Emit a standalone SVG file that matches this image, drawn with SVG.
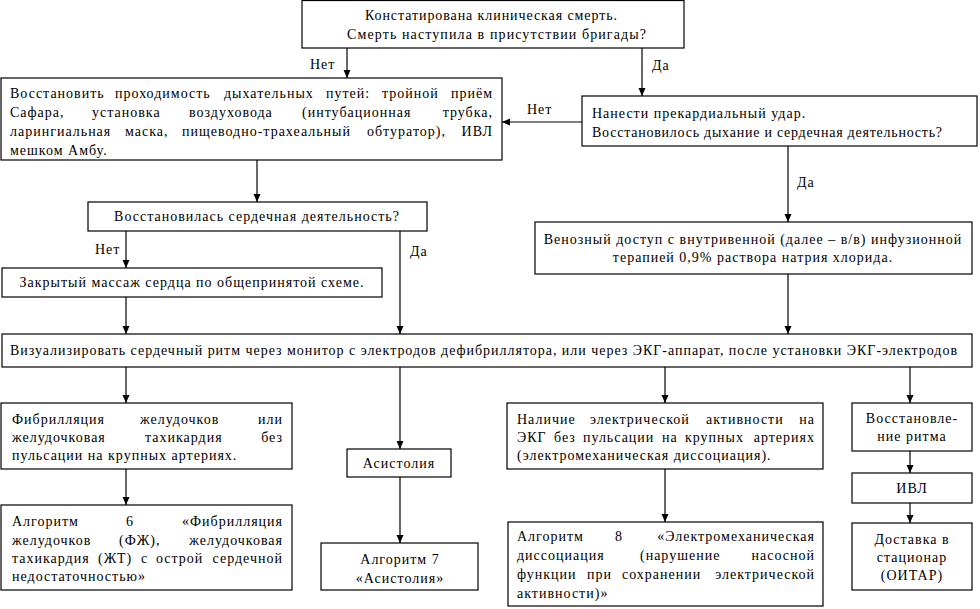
<svg xmlns="http://www.w3.org/2000/svg" width="980" height="609" viewBox="0 0 980 609">
<defs>
<marker id="ah" markerWidth="8" markerHeight="10" refX="8" refY="3.5" orient="auto" markerUnits="userSpaceOnUse">
<path d="M0,0 L8,3.5 L0,7 Z" fill="#000"/>
</marker>
<style>
rect{fill:#fff;stroke:#000;stroke-width:1.2}
text{font-family:"Liberation Serif","Times New Roman",serif;font-size:14px;letter-spacing:1px;fill:#000}
.c{text-anchor:middle}
.e{text-anchor:end}
line{stroke:#000;stroke-width:1.2}
.arr{marker-end:url(#ah)}
</style>
</defs>
<g id="connectors">
<line class="arr" x1="347" y1="48" x2="347" y2="78"/>
<line class="arr" x1="642" y1="48" x2="642" y2="96"/>
<line class="arr" x1="582" y1="122" x2="502" y2="122"/>
<line class="arr" x1="788" y1="146" x2="788" y2="222"/>
<line class="arr" x1="257" y1="160" x2="257" y2="202"/>
<line class="arr" x1="126" y1="231" x2="126" y2="268"/>
<line class="arr" x1="400" y1="231" x2="400" y2="334"/>
<line class="arr" x1="126" y1="297" x2="126" y2="334"/>
<line class="arr" x1="788" y1="274" x2="788" y2="334"/>
<line class="arr" x1="126" y1="367" x2="126" y2="403"/>
<line class="arr" x1="400" y1="367" x2="400" y2="449"/>
<line class="arr" x1="665" y1="367" x2="665" y2="403"/>
<line class="arr" x1="910" y1="367" x2="910" y2="403"/>
<line class="arr" x1="126" y1="469" x2="126" y2="505"/>
<line class="arr" x1="400" y1="477" x2="400" y2="543"/>
<line class="arr" x1="665" y1="469" x2="665" y2="522"/>
<line class="arr" x1="910" y1="451" x2="910" y2="473"/>
<line class="arr" x1="910" y1="503" x2="910" y2="523"/>
<text x="310" y="69">Нет</text>
<text x="652" y="70">Да</text>
<text x="527" y="114">Нет</text>
<text x="797" y="187">Да</text>
<text x="95" y="254">Нет</text>
<text x="410" y="256">Да</text>
</g>
<g id="n1">
<rect x="302" y="0.5" width="382" height="47.5"/>
<text x="365" y="20" textLength="253">Констатирована клиническая смерть.</text>
<text x="347" y="39" textLength="300">Смерть наступила в присутствии бригады?</text>
</g>
<g id="n2">
<rect x="1" y="78" width="501" height="82"/>
<text y="98"><tspan x="10">Восстановить</tspan><tspan x="115">проходимость</tspan><tspan x="224">дыхательных</tspan><tspan x="326">путей:</tspan><tspan x="382">тройной</tspan></text>
<text class="e" x="493" y="98">приём</text>
<text y="117"><tspan x="10">Сафара,</tspan><tspan x="92">установка</tspan><tspan x="189">воздуховода</tspan><tspan x="302">(интубационная</tspan></text>
<text class="e" x="493" y="117">трубка,</text>
<text y="136"><tspan x="10">ларингиальная</tspan><tspan x="125">маска,</tspan><tspan x="182">пищеводно-трахеальный</tspan><tspan x="367">обтуратор),</tspan></text>
<text class="e" x="493" y="136">ИВЛ</text>
<text x="10" y="155">мешком Амбу.</text>
</g>
<g id="n3">
<rect x="582" y="96" width="395" height="50"/>
<text x="592" y="118">Нанести прекардиальный удар.</text>
<text x="592" y="137" textLength="351">Восстановилось дыхание и сердечная деятельность?</text>
</g>
<g id="n4">
<rect x="88" y="202" width="339" height="29"/>
<text class="c" x="257" y="221">Восстановилась сердечная деятельность?</text>
</g>
<g id="n5">
<rect x="2" y="268" width="380" height="29"/>
<text class="c" x="192" y="287">Закрытый массаж сердца по общепринятой схеме.</text>
</g>
<g id="n6">
<rect x="535" y="222" width="437" height="52"/>
<text class="c" x="753" y="244">Венозный доступ с внутривенной (далее – в/в) инфузионной</text>
<text class="c" x="753" y="262">терапией 0,9% раствора натрия хлорида.</text>
</g>
<g id="n7">
<rect x="2" y="334" width="970" height="33"/>
<text x="10" y="355" textLength="948">Визуализировать сердечный ритм через монитор с электродов дефибриллятора, или через ЭКГ-аппарат, после установки ЭКГ-электродов</text>
</g>
<g id="n8">
<rect x="1" y="403" width="291" height="66"/>
<text y="424"><tspan x="12">Фибрилляция</tspan><tspan x="140">желудочков</tspan></text>
<text class="e" x="283" y="424">или</text>
<text y="442"><tspan x="12">желудочковая</tspan><tspan x="145">тахикардия</tspan></text>
<text class="e" x="283" y="442">без</text>
<text x="12" y="460">пульсации на крупных артериях.</text>
</g>
<g id="n9">
<rect x="1" y="505" width="291" height="85"/>
<text y="526"><tspan x="12">Алгоритм</tspan><tspan x="126">6</tspan></text>
<text class="e" x="283" y="526">«Фибрилляция</text>
<text y="545"><tspan x="12">желудочков</tspan><tspan x="119">(ФЖ),</tspan></text>
<text class="e" x="283" y="545">желудочковая</text>
<text y="563"><tspan x="12">тахикардия</tspan><tspan x="98">(ЖТ)</tspan><tspan x="141">с</tspan><tspan x="156">острой</tspan></text>
<text class="e" x="283" y="563">сердечной</text>
<text x="12" y="581">недостаточностью»</text>
</g>
<g id="n10">
<rect x="347" y="449" width="104" height="28"/>
<text class="c" x="399" y="468">Асистолия</text>
</g>
<g id="n11">
<rect x="321" y="543" width="157" height="47"/>
<text class="c" x="400" y="564">Алгоритм 7</text>
<text class="c" x="400" y="583">«Асистолия»</text>
</g>
<g id="n12">
<rect x="507" y="403" width="316" height="66"/>
<text y="424"><tspan x="517">Наличие</tspan><tspan x="590">электрической</tspan><tspan x="706">активности</tspan></text>
<text class="e" x="815" y="424">на</text>
<text y="442"><tspan x="517">ЭКГ</tspan><tspan x="554">без</tspan><tspan x="583">пульсации</tspan><tspan x="662">на</tspan><tspan x="685">крупных</tspan></text>
<text class="e" x="815" y="442">артериях</text>
<text x="517" y="460">(электромеханическая диссоциация).</text>
</g>
<g id="n13">
<rect x="508" y="522" width="315" height="84"/>
<text y="541"><tspan x="517">Алгоритм</tspan><tspan x="615">8</tspan></text>
<text class="e" x="815" y="541">«Электромеханическая</text>
<text y="560"><tspan x="517">диссоциация</tspan><tspan x="640">(нарушение</tspan></text>
<text class="e" x="815" y="560">насосной</text>
<text y="579"><tspan x="517">функции</tspan><tspan x="587">при</tspan><tspan x="622">сохранении</tspan></text>
<text class="e" x="815" y="579">электрической</text>
<text x="517" y="598">активности)»</text>
</g>
<g id="n14">
<rect x="852" y="403" width="120" height="48"/>
<text class="c" x="912" y="423">Восстановле-</text>
<text class="c" x="912" y="441">ние ритма</text>
</g>
<g id="n15">
<rect x="852" y="473" width="120" height="30"/>
<text class="c" x="912" y="493">ИВЛ</text>
</g>
<g id="n16">
<rect x="852" y="523" width="120" height="67"/>
<text class="c" x="912" y="544">Доставка в</text>
<text class="c" x="912" y="562">стационар</text>
<text class="c" x="912" y="580">(ОИТАР)</text>
</g>
</svg>
